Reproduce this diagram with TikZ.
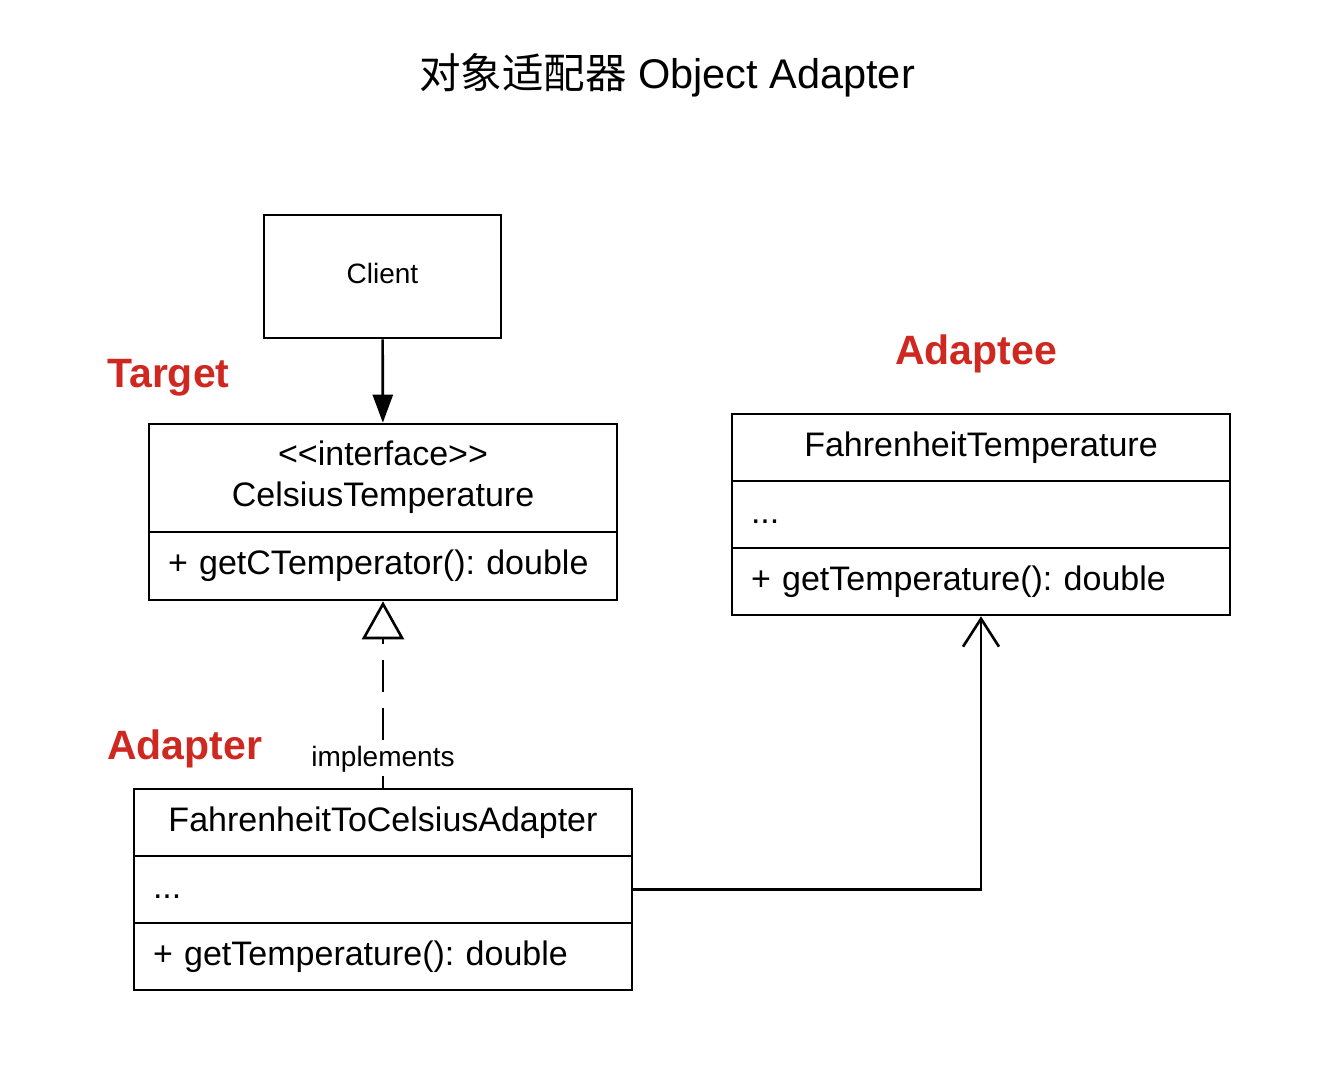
\documentclass[tikz,border=0pt]{standalone}
\usepackage{fontspec}
\newfontfamily\umlfont{Liberation Sans}
\newfontfamily\cjk{Noto Sans CJK SC}
\usetikzlibrary{arrows.meta}
\definecolor{tagred}{RGB}{206,40,32}
\frenchspacing

\begin{document}
\begin{tikzpicture}[x=1pt, y=-1pt,
                    cell/.style={
                    draw,
                    line width=2.6pt,
                    inner sep=0pt,
                    text height=25pt,
                    text depth=8pt,
                    font=\umlfont\fontsize{34pt}{41pt}\selectfont,
                    },
                    lcell/.style={
                    cell,
                    inner xsep=19pt,
                    text width=#1,
                    align=left,
                    },
                    lcell/.default=460pt,
                    tag/.style={
                    text=tagred,
                    inner sep=0pt,
                    anchor=base west,
                    font=\umlfont\bfseries\fontsize{41pt}{48pt}\selectfont,
                    },
                    note/.style={
                    fill=white,
                    inner xsep=2pt,
                    inner ysep=3pt,
                    font=\umlfont\fontsize{28pt}{34pt}\selectfont,
                    } ]

\useasboundingbox (0,0) rectangle (1330,1066);

\draw
(667,75) node[font=\umlfont\fontsize{41.5pt}{50pt}\selectfont] (title) {{\cjk 对象适配器} Object Adapter}
(382.5,276.5) node[cell, minimum width=237pt, minimum height=123pt, text height=20pt, text depth=6pt, font=\umlfont\fontsize{28pt}{34pt}\selectfont] (client) {Client}
(383,478) node[cell, minimum width=468pt, minimum height=108pt, align=center, text height=65pt, text depth=8.5pt] (cthead) {<<interface>>\\CelsiusTemperature}
(383,566) node[lcell=430pt, minimum height=68pt] (ctops) {+ getCTemperator(): double}
(981,447.5) node[cell, minimum width=498pt, minimum height=67pt] (eehead) {FahrenheitTemperature}
(981,514.5) node[lcell, minimum height=67pt] (eeattr) {...}
(981,581.5) node[lcell, minimum height=67pt] (eeops) {+ getTemperature(): double}
(383,822.5) node[cell, minimum width=498pt, minimum height=67pt] (adhead) {FahrenheitToCelsiusAdapter}
(383,889.5) node[lcell, minimum height=67pt] (adattr) {...}
(383,956.5) node[lcell, minimum height=67pt] (adops) {+ getTemperature(): double}
(107,387) node[tag] (target) {Target}
(107,759) node[tag] (adapter) {Adapter}
(895,364) node[tag] (adaptee) {Adaptee}
;
\draw[line width=2.6pt, -{Triangle[length=28pt, width=20pt]}] (client) -- (cthead);
\draw[line width=2.6pt, dash pattern=on 32pt off 16pt, -{Triangle[open, length=38pt, width=42pt]}] (adhead) -- node[note, pos=0.15] (impl) {implements} (ctops);
\draw[line width=2.6pt, -{Straight Barb[length=28pt, width=36pt]}] (adattr.east) -| (eeops.south);

\end{tikzpicture}
\end{document}
